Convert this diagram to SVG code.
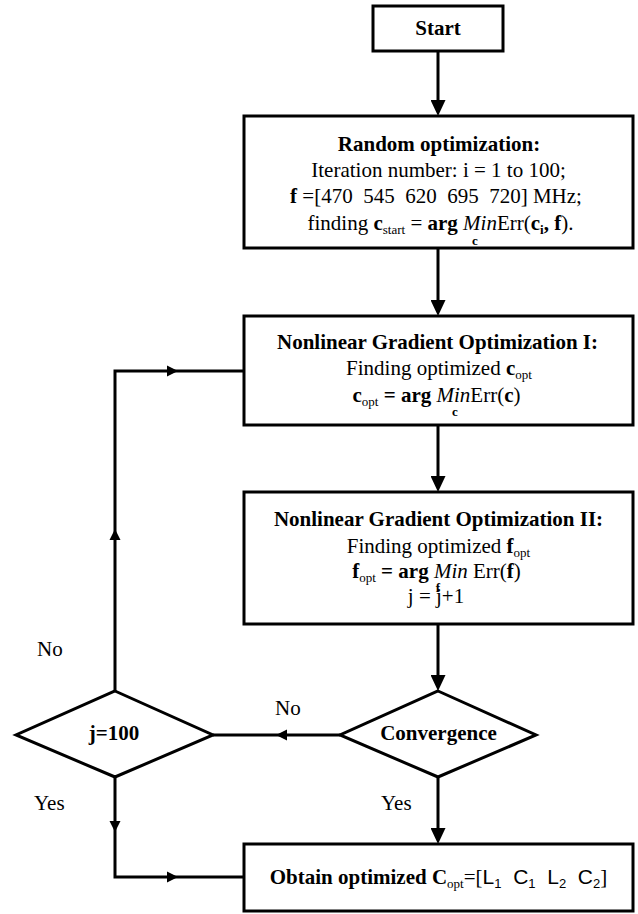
<svg xmlns="http://www.w3.org/2000/svg" xmlns:xlink="http://www.w3.org/1999/xlink" width="638" height="914" viewBox="0 0 638 914">
<style>
.box{fill:#fff;stroke:#000;stroke-width:3}
.ln{fill:none;stroke:#000;stroke-width:3}
.arr{marker-end:url(#ah)}
text{font-family:"Liberation Serif","Times New Roman",serif;font-size:21px;fill:#000;white-space:pre}
.m{text-anchor:middle}
.b{font-weight:bold}
.i{font-style:italic}
.s{font-size:13px}
.sans{font-family:"Liberation Sans",Arial,sans-serif}
</style>
<defs>
<marker id="ah" markerUnits="userSpaceOnUse" markerWidth="16" markerHeight="15" viewBox="0 0 16 15" refX="4" refY="7.5" orient="auto">
<path d="M0,0 L16,7.5 L0,15 z" fill="#000"/>
</marker>
<path id="sa" d="M-5,-5.5 L6,0 L-5,5.5 z" fill="#000"/>
</defs>

<g id="connectors">
<path class="ln arr" d="M438,51 V104"/>
<path class="ln arr" d="M438,248 V304"/>
<path class="ln arr" d="M438,425 V480"/>
<path class="ln arr" d="M438,624 V679"/>
<path class="ln arr" d="M438,777 V832"/>
<path class="ln" d="M340,735 H213"/>
<use xlink:href="#sa" transform="translate(282,735) rotate(180)"/>
<path class="ln" d="M115,691 V371 H244"/>
<use xlink:href="#sa" transform="translate(115,535) rotate(-90)"/>
<use xlink:href="#sa" transform="translate(172,371)"/>
<path class="ln" d="M115,777 V877 H244"/>
<use xlink:href="#sa" transform="translate(115,826) rotate(90)"/>
<use xlink:href="#sa" transform="translate(172,877)"/>
<text x="37" y="656" font-size="20">No</text>
<text x="275" y="715" font-size="20">No</text>
<text x="34" y="810" font-size="20">Yes</text>
<text x="381" y="810" font-size="20">Yes</text>
</g>

<g id="start">
<rect class="box" x="373" y="6" width="130" height="45"/>
<text class="m b" x="438" y="35">Start</text>
</g>

<g id="random">
<rect class="box" x="244" y="116" width="389" height="132"/>
<text class="m b" x="439" y="151">Random optimization:</text>
<text class="m" x="438.5" y="177">Iteration number: i = 1 to 100;</text>
<text class="m" x="436" y="203"><tspan class="b">f</tspan> =[470  545  620  695  720] MHz;</text>
<text class="m" x="440.5" y="230">finding <tspan class="b">c</tspan><tspan class="s" dy="4">start</tspan><tspan dy="-4"> = </tspan><tspan class="b">arg</tspan> <tspan class="i">Min</tspan>Err(<tspan class="b">c</tspan><tspan class="b s" dy="4">i</tspan><tspan class="b" dy="-4">, f</tspan>).</text>
<text class="m b s" x="475" y="245">c</text>
</g>

<g id="nlg1">
<rect class="box" x="244" y="316" width="389" height="109"/>
<text class="m b" x="437.5" y="349">Nonlinear Gradient Optimization I:</text>
<text class="m" x="439" y="375">Finding optimized <tspan class="b">c</tspan><tspan class="s" dy="4">opt</tspan></text>
<text class="m" x="436.5" y="402"><tspan class="b">c</tspan><tspan class="s" dy="4">opt</tspan><tspan class="b" dy="-4"> = arg </tspan><tspan class="i">Min</tspan>Err(<tspan class="b">c</tspan>)</text>
<text class="m b s" x="455" y="416">c</text>
</g>

<g id="nlg2">
<rect class="box" x="244" y="492" width="389" height="132"/>
<text class="m b" x="438.5" y="526">Nonlinear Gradient Optimization II:</text>
<text class="m" x="438.5" y="553">Finding optimized <tspan class="b">f</tspan><tspan class="s" dy="4">opt</tspan></text>
<text class="m" x="436.5" y="578"><tspan class="b">f</tspan><tspan class="s" dy="4">opt</tspan><tspan class="b" dy="-4"> = arg </tspan><tspan class="i">Min</tspan> Err(<tspan class="b">f</tspan>)</text>
<text class="m" x="436" y="603">j = j+1</text>
<text class="m b s" x="438" y="592">f</text>
</g>

<g id="convergence">
<polygon class="box" points="438,691 536,735 438,777 340,735"/>
<text class="m b" x="438.5" y="740">Convergence</text>
</g>

<g id="j100">
<polygon class="box" points="115,691 213,735 115,777 16,735"/>
<text class="m b" x="114" y="740">j=100</text>
</g>

<g id="obtain">
<rect class="box" x="244" y="844" width="389" height="67"/>
<text class="m" x="438.5" y="884"><tspan class="b">Obtain optimized C</tspan><tspan class="s" dy="4">opt</tspan><tspan dy="-4">=[</tspan><tspan class="sans">L</tspan><tspan class="sans s" dy="4">1</tspan><tspan class="sans" dy="-4">  C</tspan><tspan class="sans s" dy="4">1</tspan><tspan class="sans" dy="-4">  L</tspan><tspan class="sans s" dy="4">2</tspan><tspan class="sans" dy="-4">  C</tspan><tspan class="sans s" dy="4">2</tspan><tspan dy="-4">]</tspan></text>
</g>
</svg>
